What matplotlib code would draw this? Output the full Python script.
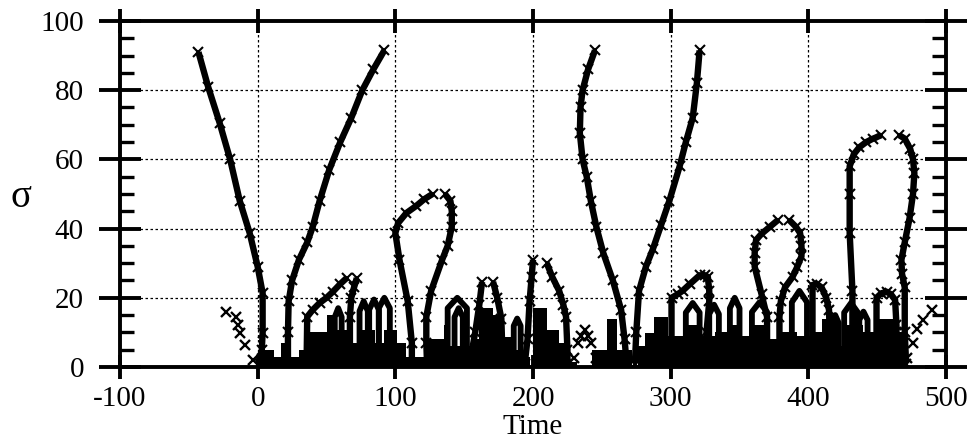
import matplotlib
matplotlib.use("Agg")
import matplotlib.pyplot as plt
from matplotlib.ticker import MultipleLocator

plt.rcParams['font.family'] = ['Liberation Serif', 'DejaVu Serif']
plt.rcParams['axes.unicode_minus'] = False

# long zero-crossing branches (time, sigma)
br1_t = [-43, -36, -27.6, -20, -13, -5.8, 0, 3.6, 3.6, 3, 1.5]
br1_s = [91, 81, 70.5, 60, 48, 38.7, 29, 21.4, 9.8, 5, 1]
br2_t = [22, 22, 22.5, 25, 30, 36, 40, 45, 52, 60, 68, 76, 84, 92]
br2_s = [0.5, 10, 19, 25, 31, 36, 40.5, 48, 57, 65, 72, 80, 86, 91.5]
br3_t = [245, 240, 236, 234.5, 234, 236, 239, 242, 246, 251, 258, 264, 266.5, 268]
br3_s = [91.5, 86, 80, 75, 67.6, 60, 55, 48, 40.5, 33, 25, 16.5, 8, 1]
br4_t = [274, 275, 277, 282, 287, 293, 299, 306.5, 311, 316, 319, 321]
br4_s = [1, 10, 22, 29, 34, 41, 48, 58, 65, 72, 82, 91.5]

# loops whose tops are open
loopA1_t = [112, 112, 109, 103, 100, 102, 108, 115, 121, 127]
loopA1_s = [1, 7, 19, 31, 38.7, 41.6, 44.5, 46.5, 48.5, 50]
loopA2_t = [136, 140, 141, 141, 138, 134, 126, 122.5, 122.5, 123]
loopA2_s = [50, 48, 45, 40.5, 35, 31, 22, 14.5, 7, 1]
loopB1_t = [370, 370, 366, 361, 361, 362, 366, 372, 378]
loopB1_s = [1, 14.5, 21, 29, 33, 36.7, 38.5, 40.5, 42.5]
loopB2_t = [386, 391, 394, 395, 395, 392, 388.5, 383, 380, 379, 379]
loopB2_s = [42.5, 40.5, 38.7, 35, 32, 29, 26, 23, 19, 14.5, 1]
loopC1_t = [432, 432, 432, 430, 430, 430, 433, 437, 442, 447, 453]
loopC1_s = [1, 10, 22, 38.7, 50, 58, 61.5, 63.5, 65, 66, 67]
loopC2_t = [466, 470, 474, 476, 477, 476, 473.5, 470, 467.6, 468, 470, 470, 471]
loopC2_s = [67, 66, 63, 60, 56, 50, 43, 36, 31, 27, 23, 10, 1]
loopD1_t = [35.5, 36, 40, 45, 50, 54.5, 60, 64.6]
loopD1_s = [0.5, 14.5, 16.5, 18.5, 20, 21.7, 24, 25.7]
loopD2_t = [72, 70, 68, 67, 67]
loopD2_s = [25.7, 23, 20, 14.5, 1]
loopE1_t = [194, 196, 197.5, 199, 200]
loopE1_s = [1, 8, 19, 26, 31]
loopE2_t = [210, 214, 219, 222, 224, 225, 225]
loopE2_s = [30, 26, 22, 18, 14.5, 5, 1]
loopF_t = [300.6, 300.6, 300.6, 305, 308.6, 314, 321, 325, 327, 328, 328, 326, 326]
loopF_s = [1, 5, 20, 21, 22, 24, 26.5, 26.5, 26, 22, 19, 10, 1]
loopG_t = [449.5, 449.5, 453, 457, 460, 463, 464, 464]
loopG_s = [1, 20, 21.3, 21.7, 21, 19.4, 12, 1]
loopH_t = [403, 403, 406, 409.6, 413, 415, 416]
loopH_s = [1, 23.7, 24, 23, 20, 16.5, 1]
loopI1_t = [154, 158, 161, 163]
loopI1_s = [1, 10, 18, 24.6]
loopI2_t = [171, 174, 177, 178]
loopI2_s = [24.6, 20, 14, 1]

# narrow closed loops near the bottom: left, right, peak sigma
narrow_left = [74, 81, 88, 138, 143, 186, 311, 328, 343, 359, 388, 426, 437, 56, 417]
narrow_right = [80, 88, 96, 152, 149, 191, 321, 335, 350, 370, 399, 436, 443, 61, 422]
narrow_top = [19, 19.5, 20, 20, 17, 14, 18.5, 18, 20, 18.7, 22, 18.5, 16, 17, 15]

# dense fine-scale crossings: start, end, sigma
block_t0 = [2, 12, 17, 24, 30, 36, 50, 57, 66, 76, 85, 92, 101, 108, 121, 135,
            140, 155, 161, 171, 175, 184, 192, 200, 210, 219, 226, 243, 254, 261,
            276, 281, 288, 298, 312, 322, 332, 343, 350, 360, 370, 380, 392, 402,
            410, 420, 428, 440, 448, 462]
block_t1 = [12, 20, 24, 30, 36, 50, 57, 66, 76, 85, 92, 101, 108, 121, 135, 140,
            155, 161, 171, 175, 184, 192, 198, 210, 219, 226, 232, 254, 261, 272,
            281, 288, 298, 312, 322, 332, 343, 350, 360, 370, 380, 392, 402, 410,
            420, 428, 440, 448, 462, 470]
block_h = [5, 3, 7, 3, 5, 10, 15, 10.7, 7, 10.7, 7, 10.7, 7, 3, 8, 12,
           6, 8, 17, 15, 8.7, 5, 3, 17, 10.7, 7, 1.5, 5, 14, 5,
           6, 9.8, 14.4, 9, 12, 9, 10, 12, 9, 12, 8, 10, 9, 10,
           14, 6, 12, 10, 14, 10]

# isolated crossings
pts_t = [-23, -16, -14.5, -12.5, -9, -3.6, 190, 230, 233, 235, 237.5, 240, 242, 246,
         472, 475.7, 479, 483, 489.5]
pts_s = [16, 14.5, 12, 9.8, 6.4, 2, 2, 2.6, 7, 9, 10.7, 9, 7, 2.6,
         2.6, 6.9, 11, 13.6, 16.5]

fig = plt.figure(figsize=(9.7, 4.43), dpi=100)
ax = fig.add_axes([0.1237, 0.1716, 0.8516, 0.781])

ax.bar(block_t0, block_h, width=[b - a for a, b in zip(block_t0, block_t1)],
       align='edge', color='black', zorder=3)

for l, r, h in zip(narrow_left, narrow_right, narrow_top):
    ax.plot([l, l, (l + r) / 2, r, r], [0, h * 0.85, h, h * 0.85, 0],
            color='black', lw=4.2, zorder=3)

branches = [(br1_t, br1_s), (br2_t, br2_s), (br3_t, br3_s), (br4_t, br4_s),
            (loopA1_t, loopA1_s), (loopA2_t, loopA2_s), (loopB1_t, loopB1_s),
            (loopB2_t, loopB2_s), (loopC1_t, loopC1_s), (loopC2_t, loopC2_s),
            (loopD1_t, loopD1_s), (loopD2_t, loopD2_s), (loopE1_t, loopE1_s),
            (loopE2_t, loopE2_s), (loopF_t, loopF_s), (loopG_t, loopG_s),
            (loopH_t, loopH_s), (loopI1_t, loopI1_s), (loopI2_t, loopI2_s)]
for t, s in branches:
    ax.plot(t, s, color='black', lw=4.6, marker='x', ms=7, mew=1.5, zorder=4,
            solid_capstyle='butt', solid_joinstyle='round')

ax.plot(pts_t, pts_s, ls='none', color='black', marker='x', ms=6.5, mew=1.7, zorder=4)

ax.set_xlim(-100, 500)
ax.set_ylim(0, 100)
ax.set_xticks([-100, 0, 100, 200, 300, 400, 500])
ax.set_yticks([0, 20, 40, 60, 80, 100])
ax.yaxis.set_minor_locator(MultipleLocator(5))
ax.grid(True, which='major', color='black', lw=0.9, ls=(0, (2, 2)))
ax.set_axisbelow(True)

for sp in ax.spines.values():
    sp.set_linewidth(2.8)

ax.tick_params(axis='x', which='major', direction='inout', length=17, width=2.8,
               top=True, labelsize=21, pad=5)
ax.tick_params(axis='y', which='major', direction='inout', length=30, width=2.8,
               right=True, labelsize=21, pad=11)
ax.tick_params(axis='y', which='minor', direction='in', length=10, width=2.4,
               right=True)

ax.set_xlabel('Time', fontsize=21)
ax.xaxis.set_label_coords(0.5, -0.135)
ax.set_ylabel('σ', fontsize=28, rotation=0, va='center')
ax.yaxis.set_label_coords(-0.12, 0.49)

fig.savefig('out.png', dpi=100)
